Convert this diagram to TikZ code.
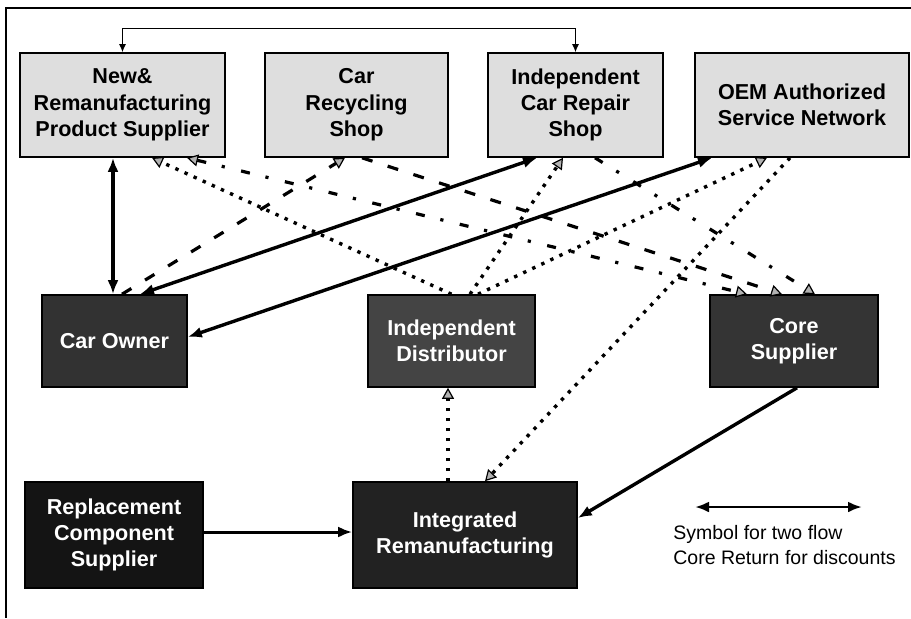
\documentclass[tikz,border=0pt]{standalone}
\usepackage{fontspec}
\setmainfont{Liberation Sans}
\usetikzlibrary{arrows.meta,calc}
\definecolor{lightbox}{RGB}{222,222,222}
\definecolor{dkA}{RGB}{50,50,50}
\definecolor{dkB}{RGB}{68,68,68}
\definecolor{dkC}{RGB}{52,52,52}
\definecolor{dkD}{RGB}{20,20,20}
\definecolor{dkE}{RGB}{34,34,34}
\tikzset{
  blk/.tip={Latex[length=7pt,width=5.5pt]},
  smallblk/.tip={Latex[length=4pt,width=3.5pt]},
  gtri/.tip={Triangle[length=5.5pt,width=6pt,fill=gray!60,line width=0.6pt]},
  box/.style={draw=black, line width=0.8pt, rectangle, align=center, inner sep=0pt,
    font=\fontsize{10.8pt}{13.2pt}\selectfont\bfseries},
  lbox/.style={box, fill=lightbox, text=black, minimum height=52pt},
  dbox/.style={box, text=white},
  solidln/.style={line width=1.7pt},
  dashln/.style={line width=1.6pt, dash pattern=on 5.5pt off 8pt},
  dotln/.style={line width=1.7pt, dash pattern=on 1.7pt off 3.3pt},
  ddln/.style={line width=1.6pt, dash pattern=on 4.5pt off 8pt on 1.6pt off 8.4pt},
  framestyle/.style={line width=1pt},
}
\begin{document}
\begin{tikzpicture}[x=0.5pt,y=-0.5pt]
\useasboundingbox (0,0) rectangle (911,618);
\draw[framestyle] (911,8) -- (6,8) -- (6,618);

% top row
\node[lbox, minimum width=102.5pt] (ps) at (122.5,105) {New\&\\Remanufacturing\\Product Supplier};
\node[lbox, minimum width=91.5pt] (cr) at (356.5,105) {Car\\Recycling\\Shop};
\node[lbox, minimum width=87.5pt] (rp) at (575.5,105) {Independent\\Car Repair\\Shop};
\node[lbox, minimum width=107pt] (oem) at (802,105) {OEM Authorized\\Service Network};

% middle row
\node[dbox, fill=dkA, minimum width=72.5pt, minimum height=46pt] (co) at (114.5,341) {Car Owner};
\node[dbox, fill=dkB, minimum width=83.5pt, minimum height=46pt] (ds) at (451.5,341) {Independent\\Distributor};
\node[dbox, fill=dkC, minimum width=84pt, minimum height=46pt] (cs) at (794,341) {Core\\Supplier};

% bottom row
\node[dbox, fill=dkD, minimum width=89pt, minimum height=53pt] (rc) at (114,535) {Replacement\\Component\\Supplier};
\node[dbox, fill=dkE, minimum width=112pt, minimum height=53pt] (ir) at (465,535) {Integrated\\Remanufacturing};

% legend
\coordinate (legA) at (695,507);
\coordinate (legB) at (862,507);
\draw[line width=1.4pt, blk-blk] (legA) -- (legB);
\node[anchor=west, align=left, inner sep=0pt,
  font=\fontsize{9.75pt}{12.5pt}\selectfont] (legtxt) at (673,545)
  {Symbol for two flow\\Core Return for discounts};

% top feedback connector
\draw[line width=0.6pt, smallblk-smallblk] (ps.north) -- ++(0,-24) -| (rp.north);

% solid connectors
\draw[solidln, blk-blk] ($(ps.south)+(-9.5,0)$) -- ($(co.north)+(-1.5,0)$);
\draw[solidln, blk-blk] ($(co.north)+(25.5,0)$) -- ($(rp.south)+(-38.5,0)$);
\draw[solidln, blk-blk] ($(co.east)+(0,-4)$) -- ($(oem.south)+(-90,0)$);
\draw[solidln, -blk] ($(cs.south)+(3,0)$) -- ($(ir.east)+(0,-17)$);
\draw[line width=1.5pt, -blk] ($(rc.east)+(0,-3)$) -- ($(ir.west)+(0,-3)$);

% dashed connectors
\draw[dashln, -gtri] ($(co.north)+(7.5,0)$) -- ($(cr.south)+(-11.5,0)$);
\draw[dashln, -gtri] ($(cr.south)+(5.5,0)$) -- ($(cs.north)+(-12,0)$);

% dash-dot connectors
\draw[ddln, gtri-gtri] ($(ps.south)+(64.5,0)$) -- ($(cs.north)+(-47,0)$);
\draw[ddln, -gtri] ($(rp.south)+(19.5,0)$) -- ($(cs.north)+(21,0)$);

% dotted connectors
\draw[dotln, -gtri] ($(ds.north)+(0,0)$) -- ($(ps.south)+(29.5,0)$);
\draw[dotln, -gtri] ($(ds.north)+(18.5,0)$) -- ($(rp.south)+(-12.5,0)$);
\draw[dotln, -gtri] ($(ds.north)+(26.5,0)$) -- ($(oem.south)+(-35,0)$);
\draw[dotln, -gtri] ($(oem.south)+(-12,0)$) -- ($(ir.north)+(20,0)$);
\draw[dotln, -gtri] ($(ir.north)+(-17,0)$) -- ($(ds.south)+(-3.5,0)$);
\end{tikzpicture}
\end{document}
